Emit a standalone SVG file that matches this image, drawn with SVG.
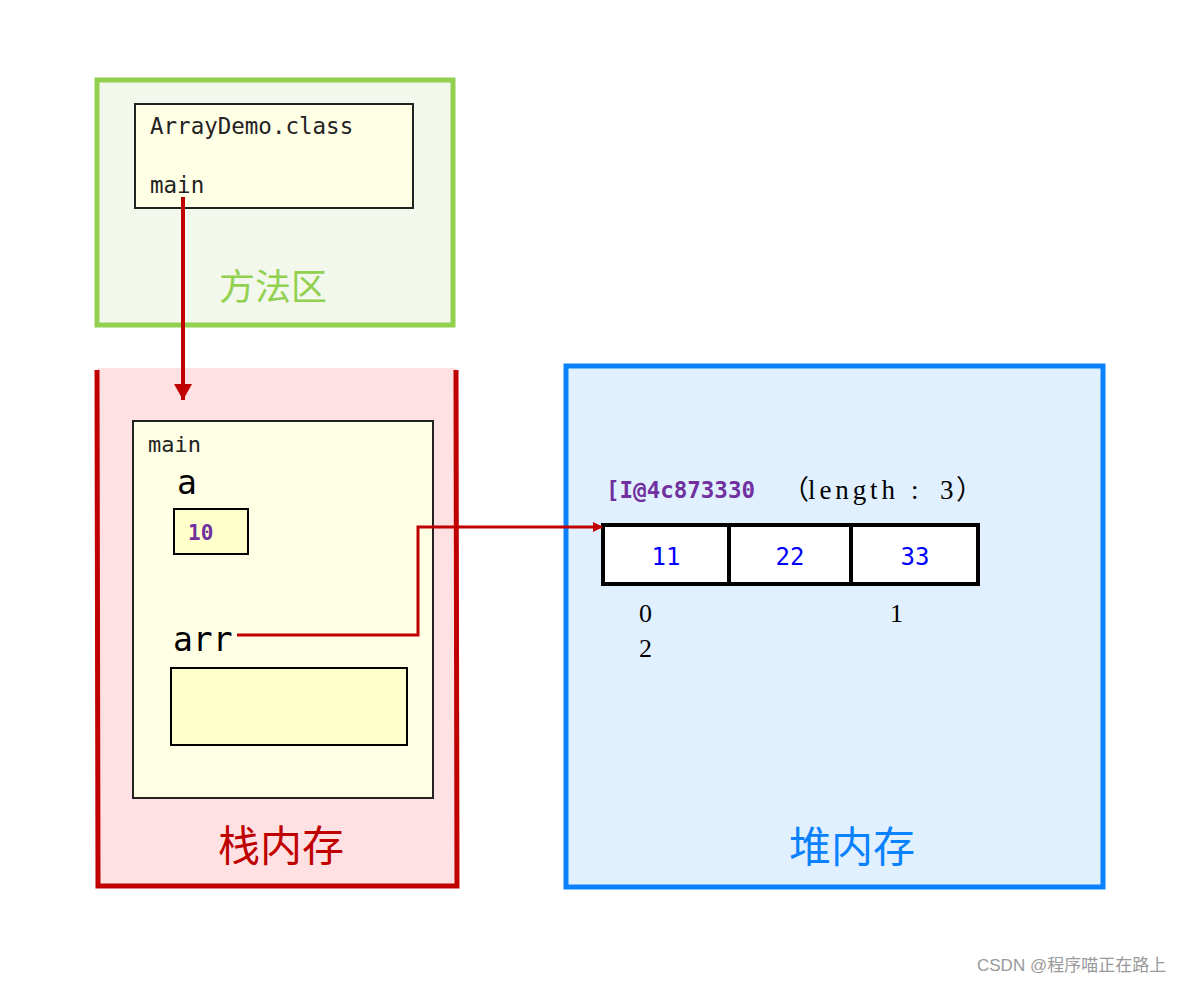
<svg xmlns="http://www.w3.org/2000/svg" width="1203" height="983" viewBox="0 0 1203 983">
<defs>
<style>
.mono{font-family:"DejaVu Sans Mono","Liberation Mono",monospace}
.serif{font-family:"Liberation Serif","Noto Sans CJK SC",serif}
.cjk{font-family:"Noto Sans CJK SC",sans-serif}
.frame{fill:#ffffe6;stroke:#222;stroke-width:2}
.cell{fill:#ffffcc;stroke:#000;stroke-width:2}
.red{stroke:#c00000;stroke-width:4;fill:none}
</style>
<marker id="ah" markerWidth="10" markerHeight="10" refX="9" refY="5" orient="auto" markerUnits="userSpaceOnUse" viewBox="0 0 10 10">
<path d="M0,0 L10,5 L0,10 z" fill="#c00000"/>
</marker>
<marker id="ahBig" markerWidth="18" markerHeight="18" refX="16" refY="9" orient="auto" markerUnits="userSpaceOnUse" viewBox="0 0 18 18">
<path d="M0,0 L16,9 L0,18 z" fill="#c00000"/>
</marker>
</defs>
<rect width="1203" height="983" fill="#fff"/>
<g id="method-area">
<rect x="97" y="80" width="356" height="245" fill="#f2f8ec" stroke="#92d050" stroke-width="5"/>
<rect x="135" y="104" width="278" height="104" class="frame" stroke="#000"/>
<text x="150" y="134" class="mono" font-size="22.5" fill="#222">ArrayDemo.class</text>
<text x="150" y="193" class="mono" font-size="22.5" fill="#222">main</text>
<text x="273" y="300" class="cjk" font-size="36" fill="#92d050" text-anchor="middle">方法区</text>
</g>
<g id="stack">
<rect x="97" y="368" width="359" height="518" fill="#ffe1e3"/>
<path d="M97,370 L98,886 L457,886 L456,370" fill="none" stroke="#c00000" stroke-width="5"/>
<rect x="133" y="421" width="300" height="377" class="frame"/>
<text x="148" y="452" class="mono" font-size="22" fill="#222">main</text>
<text x="177" y="494" class="mono" font-size="33" fill="#000">a</text>
<rect x="174" y="509" width="74" height="45" class="cell"/>
<text x="188" y="540" class="mono" font-size="21" font-weight="bold" fill="#7030a0">10</text>
<text x="173" y="651" class="mono" font-size="33" fill="#000">arr</text>
<rect x="171" y="668" width="236" height="77" class="cell"/>
<text x="281" y="861" class="serif" font-size="42" fill="#c00000" text-anchor="middle">栈内存</text>
</g>
<g id="heap">
<rect x="566" y="366" width="537" height="521" fill="#e1f0fe" stroke="#0a82ff" stroke-width="5"/>
<text x="606" y="498" class="mono" font-size="22.5" font-weight="bold" fill="#7030a0">[I@4c873330</text>
<text y="499" class="serif" font-size="27" fill="#000"><tspan x="782">（</tspan><tspan x="808" textLength="87" lengthAdjust="spacing">length</tspan><tspan x="911">:</tspan><tspan x="940">3</tspan><tspan x="956">）</tspan></text>
<rect x="603" y="525" width="375" height="59" fill="#fff" stroke="#000" stroke-width="4"/>
<line x1="729" y1="525" x2="729" y2="584" stroke="#000" stroke-width="4"/>
<line x1="851" y1="525" x2="851" y2="584" stroke="#000" stroke-width="4"/>
<text x="666" y="565" class="mono" font-size="24" fill="#0000ff" text-anchor="middle">11</text>
<text x="790" y="565" class="mono" font-size="24" fill="#0000ff" text-anchor="middle">22</text>
<text x="915" y="565" class="mono" font-size="24" fill="#0000ff" text-anchor="middle">33</text>
<text x="639" y="622" class="serif" font-size="26" fill="#000">0</text>
<text x="890" y="622" class="serif" font-size="26" fill="#000">1</text>
<text x="639" y="657" class="serif" font-size="26" fill="#000">2</text>
<text x="852" y="862" class="serif" font-size="42" fill="#0a82ff" text-anchor="middle">堆内存</text>
</g>
<g id="connectors">
<path d="M183,197 L183,400" class="red" marker-end="url(#ahBig)"/>
<path d="M237,635 L418,635 L418,527 L602,527" stroke="#c00000" stroke-width="3" fill="none" marker-end="url(#ah)"/>
</g>
<text x="977" y="971" font-family="Liberation Sans,Noto Sans CJK SC,sans-serif" font-size="17" fill="#999">CSDN @程序喵正在路上</text>
</svg>
